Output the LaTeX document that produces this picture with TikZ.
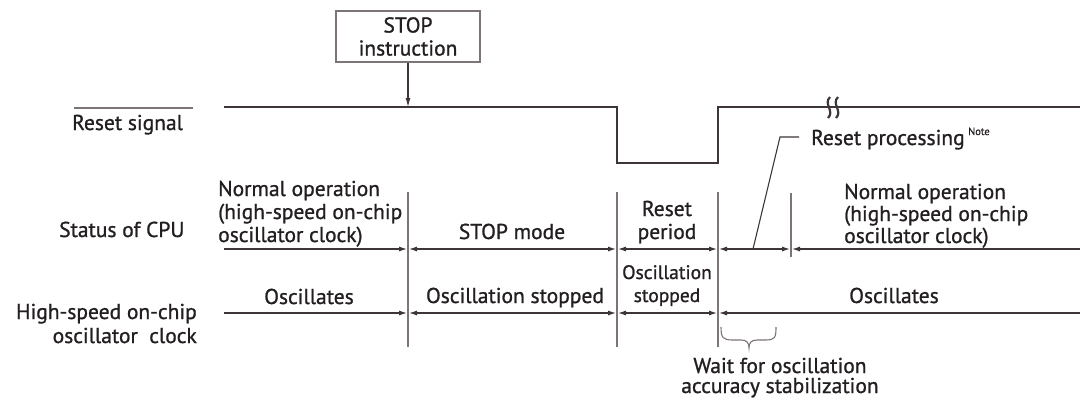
\documentclass[tikz,border=0pt]{standalone}
\usepackage{fontspec}
\setmainfont{PT Sans}[FakeBold=1]
\usetikzlibrary{arrows.meta}
\definecolor{wave}{RGB}{62,54,54}
\definecolor{guide}{RGB}{125,117,117}
\definecolor{ink}{RGB}{35,31,32}

\begin{document}
\begin{tikzpicture}[x=1pt, y=-1pt,
    >={Latex[length=9pt,width=5pt]},
    txt/.style={inner sep=0pt, text=ink, font=\fontsize{21.5}{23}\selectfont},
    sig/.style={draw=wave, line width=2.4pt},
    seg/.style={draw=wave, line width=1.8pt},
    bound/.style={draw=guide, line width=1.3pt},
    thinline/.style={draw=wave, line width=1.1pt}]
    \useasboundingbox (0,0) rectangle (1080,400);
    \node[txt, draw=guide, line width=1.2pt, minimum width=144pt, minimum height=51pt, align=center] (stop) at (408,36.5) {STOP\\instruction};
    \node[txt, anchor=base west] (rsig) at (72,130) {Reset signal};
    \node[txt, anchor=base west] (cpu) at (59,237) {Status of CPU};
    \node[txt, anchor=base east, align=right, font=\fontsize{21.5}{24}\selectfont] (hoco) at (197,343) {High-speed on-chip\\oscillator\ \ clock};
    \coordinate (r0) at (224,107);
    \coordinate (r1) at (617,107);
    \coordinate (r2) at (617,163);
    \coordinate (r3) at (718,163);
    \coordinate (r4) at (718,107);
    \coordinate (r5) at (1080,107);
    \draw[sig] (r0) -- (r1) -- (r2) -- (r3) -- (r4) -- (r5);
    \draw[sig, line width=2.2pt] (830,97) .. controls (823,104) and (835,111) .. (828,118);
    \draw[sig, line width=2.2pt] (838,97) .. controls (831,104) and (843,111) .. (836,118);
    \draw[thinline, guide] (74,108) -- (193,108);
    \draw[thinline, ->] (stop) -- (stop |- r0);
    \coordinate (c0) at (224,249);
    \coordinate (c1) at (408,249);
    \coordinate (c2) at (617,249);
    \coordinate (c3) at (718,249);
    \coordinate (c4) at (791,249);
    \coordinate (c5) at (1080,249);
    \coordinate (k0) at (224,313);
    \coordinate (k1) at (408,313);
    \coordinate (k2) at (617,313);
    \coordinate (k3) at (718,313);
    \coordinate (k4) at (1080,313);
    \draw[bound] (408,192) -- (408,347);
    \draw[bound] (617,192) -- (617,347);
    \draw[bound] (718,192) -- (718,347);
    \draw[bound] (791,193) -- (791,257);
    \draw[seg, ->] (c0) -- (c1);
    \draw[seg, <->] (c1) -- (c2);
    \draw[seg, <->] (c2) -- (c3);
    \draw[seg, <->] (c3) -- (c4);
    \draw[seg, <-] (c4) -- (c5);
    \draw[seg, ->] (k0) -- (k1);
    \draw[seg, <->] (k1) -- (k2);
    \draw[seg, <->] (k2) -- (k3);
    \draw[seg, <-] (k3) -- (k4);
    \node[txt, anchor=base west, align=left] (norm1) at (218,242) {Normal operation\\(high-speed on-chip\\oscillator clock)};
    \node[txt, anchor=base] (stopm) at (512,239) {STOP mode};
    \node[txt, anchor=base, align=center] (rper) at (667,239) {Reset\\period};
    \node[txt, anchor=base west, align=left, font=\fontsize{21.5}{22}\selectfont] (norm2) at (844,243) {Normal operation\\(high-speed on-chip\\oscillator clock)};
    \node[txt, anchor=base west] (rproc) at (811,145) {Reset processing\,\raisebox{10pt}{\fontsize{10.5}{10.5}\selectfont Note}};
    \draw[thinline] (rproc.base west) ++(-12,-8) -- ++(-19,0) -- (753,249);
    \node[txt, anchor=base] (osc1) at (309,304) {Oscillates};
    \node[txt, anchor=base] (oscs) at (515,303) {Oscillation stopped};
    \node[txt, anchor=base, align=center, font=\fontsize{19.5}{23}\selectfont] (oscs2) at (667,302) {Oscillation\\stopped};
    \node[txt, anchor=base] (osc2) at (894,303) {Oscillates};
    \draw[thinline, guide] (721,327) .. controls (721,338) and (723,340) .. (733,340) -- (741,340) .. controls (747,340) and (749,343) .. (749,348) .. controls (749,343) and (751,340) .. (757,340) -- (765,340) .. controls (775,340) and (776,338) .. (776,327);
    \node[txt, anchor=base, align=center, font=\fontsize{21.5}{20}\selectfont] (wait) at (780,393) {Wait for oscillation\\accuracy stabilization};
\end{tikzpicture}
\end{document}
